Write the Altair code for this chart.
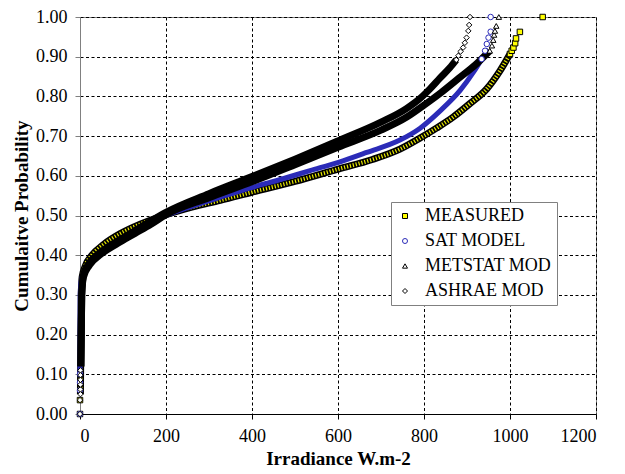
import altair as alt
import pandas as pd

SERIES = ["MEASURED", "SAT MODEL", "METSTAT MOD", "ASHRAE MOD"]

# dense part of each cumulative curve (irradiance, cumulative probability)
MEAS_CURVE_X = [1, 2, 3, 5, 12, 28, 55, 95, 140, 200, 260, 326, 401, 500, 601, 680, 744, 791, 829, 868, 907, 946, 977, 1000]
MEAS_CURVE_Y = [0.05, 0.20, 0.30, 0.345, 0.372, 0.40, 0.427, 0.455, 0.478, 0.502, 0.521, 0.538, 0.559, 0.586, 0.617, 0.641, 0.667, 0.695, 0.72, 0.748, 0.782, 0.819, 0.865, 0.907]

SAT_CURVE_X = [0, 0.4, 3, 9, 24, 50, 88, 128, 166, 200, 260, 326, 401, 470, 535, 601, 667, 744, 791, 837, 884, 915, 934]
SAT_CURVE_Y = [0.10, 0.30, 0.335, 0.355, 0.38, 0.405, 0.433, 0.458, 0.481, 0.50, 0.523, 0.546, 0.571, 0.592, 0.613, 0.634, 0.659, 0.69, 0.72, 0.763, 0.815, 0.861, 0.894]

MET_CURVE_X = [2, 4, 8, 22, 48, 88, 128, 165, 200, 300, 400, 500, 600, 700, 760, 800, 840, 880, 920, 953]
MET_CURVE_Y = [0.12, 0.30, 0.345, 0.375, 0.402, 0.43, 0.455, 0.478, 0.502, 0.545, 0.585, 0.628, 0.672, 0.715, 0.748, 0.778, 0.81, 0.845, 0.88, 0.915]

ASH_CURVE_X = [2, 4, 8, 20, 45, 83, 122, 160, 200, 300, 400, 500, 600, 700, 760, 791, 814, 837, 860, 875]
ASH_CURVE_Y = [0.12, 0.30, 0.35, 0.378, 0.405, 0.433, 0.458, 0.483, 0.508, 0.555, 0.598, 0.642, 0.688, 0.735, 0.77, 0.795, 0.819, 0.846, 0.872, 0.892]

# individually visible markers (bottom and upper tails)
MEAS_TAIL_X = [0, 0, 1000, 1004, 1008, 1012, 1014, 1023, 1076]
MEAS_TAIL_Y = [0.00, 0.035, 0.907, 0.915, 0.923, 0.934, 0.946, 0.9625, 1.00]
SAT_TAIL_X = [0, 0, 0, 0, 934, 942, 946, 950, 955, 955]
SAT_TAIL_Y = [0.00, 0.06, 0.08, 0.10, 0.894, 0.915, 0.932, 0.948, 0.963, 1.00]
MET_TAIL_X = [953, 958, 961, 963, 965, 968, 974]
MET_TAIL_Y = [0.915, 0.928, 0.942, 0.955, 0.965, 0.9775, 1.00]
ASH_TAIL_X = [0, 0, 1, 1, 1, 1, 1, 1, 875, 880, 885, 891, 895, 899, 903, 905, 907]
ASH_TAIL_Y = [0.00, 0.035, 0.05, 0.062, 0.074, 0.086, 0.098, 0.11, 0.892, 0.9025, 0.913, 0.923, 0.935, 0.948, 0.965, 0.98, 1.00]

X_TICKS = [0, 200, 400, 600, 800, 1000, 1200]
Y_TICKS = [0.0, 0.1, 0.2, 0.3, 0.4, 0.5, 0.6, 0.7, 0.8, 0.9, 1.0]

SHAPES = ["square", "circle", "triangle-up", "diamond"]
FILLS = ["#FFFF00", "#FFFFFF", "#FFFFFF", "#FFFFFF"]
STROKES = ["#000000", "#2B2BB8", "#000000", "#000000"]

FONT = "Liberation Serif, Times New Roman, DejaVu Serif, serif"


def curve(xs, ys, name):
    return pd.DataFrame({"irr": xs, "p": ys, "series": name, "i": list(range(len(xs)))})


curves = {
    "MEASURED": curve(MEAS_CURVE_X, MEAS_CURVE_Y, "MEASURED"),
    "SAT MODEL": curve(SAT_CURVE_X, SAT_CURVE_Y, "SAT MODEL"),
    "METSTAT MOD": curve(MET_CURVE_X, MET_CURVE_Y, "METSTAT MOD"),
    "ASHRAE MOD": curve(ASH_CURVE_X, ASH_CURVE_Y, "ASHRAE MOD"),
}
tails = pd.concat([
    curve(MEAS_TAIL_X, MEAS_TAIL_Y, "MEASURED"),
    curve(SAT_TAIL_X, SAT_TAIL_Y, "SAT MODEL"),
    curve(MET_TAIL_X, MET_TAIL_Y, "METSTAT MOD"),
    curve(ASH_TAIL_X, ASH_TAIL_Y, "ASHRAE MOD"),
])

x_enc = alt.X("irr:Q", scale=alt.Scale(domain=[0, 1200], nice=False),
              axis=alt.Axis(values=X_TICKS, title="Irradiance W.m-2", format="d",
                            domainColor="#000000", tickColor="#000000"))
y_enc = alt.Y("p:Q", scale=alt.Scale(domain=[0, 1], nice=False),
              axis=alt.Axis(values=Y_TICKS, title="Cumulaitve Probability", format=".2f",
                            domainColor="#808080", tickColor="#808080"))


def band(name, color, width, dash=None):
    kw = dict(color=color, strokeWidth=width, strokeCap="butt", strokeJoin="round",
              interpolate="monotone")
    if dash is not None:
        kw["strokeDash"] = dash
    return alt.Chart(curves[name]).mark_line(**kw).encode(
        x=x_enc, y=y_enc, order=alt.Order("i:Q"))


leg = alt.Legend(title=None)
points = alt.Chart(tails).mark_point(filled=True, opacity=1, strokeWidth=1, size=30).encode(
    x=x_enc, y=y_enc,
    shape=alt.Shape("series:N", scale=alt.Scale(domain=SERIES, range=SHAPES), legend=leg),
    fill=alt.Fill("series:N", scale=alt.Scale(domain=SERIES, range=FILLS), legend=leg),
    stroke=alt.Stroke("series:N", scale=alt.Scale(domain=SERIES, range=STROKES), legend=leg),
)

chart = alt.layer(
    band("MEASURED", "#000000", 7),
    band("MEASURED", "#E8E800", 4, [1.2, 1.8]),
    band("SAT MODEL", "#2B2BB8", 5),
    band("METSTAT MOD", "#000000", 7),
    band("ASHRAE MOD", "#000000", 7),
    points,
).properties(
    width=516, height=397,
    autosize=alt.AutoSizeParams(type="none"),
    padding={"left": 72, "top": 9, "right": 21, "bottom": 60},
).configure(
    font=FONT,
).configure_view(
    stroke="#808080", strokeWidth=1,
).configure_axis(
    grid=True, gridColor="#000000", gridDash=[3, 2.5], gridWidth=1, gridOpacity=1,
    labelFont=FONT, labelFontSize=18, labelColor="#000000",
    titleFont=FONT, titleFontSize=19, titleFontWeight="bold", titleColor="#000000",
    tickSize=5, domainWidth=1,
).configure_axisX(
    labelPadding=8, titlePadding=4,
).configure_axisY(
    labelPadding=8, titlePadding=4,
).configure_legend(
    orient="none", legendX=311, legendY=185,
    fillColor="#FFFFFF", strokeColor="#808080", padding=5, rowPadding=7,
    labelFont=FONT, labelFontSize=18, labelColor="#000000",
    symbolSize=25, symbolStrokeWidth=1, labelOffset=11, labelLimit=300,
)

chart.save("out.html", embed_options={"renderer": "svg", "actions": False})
